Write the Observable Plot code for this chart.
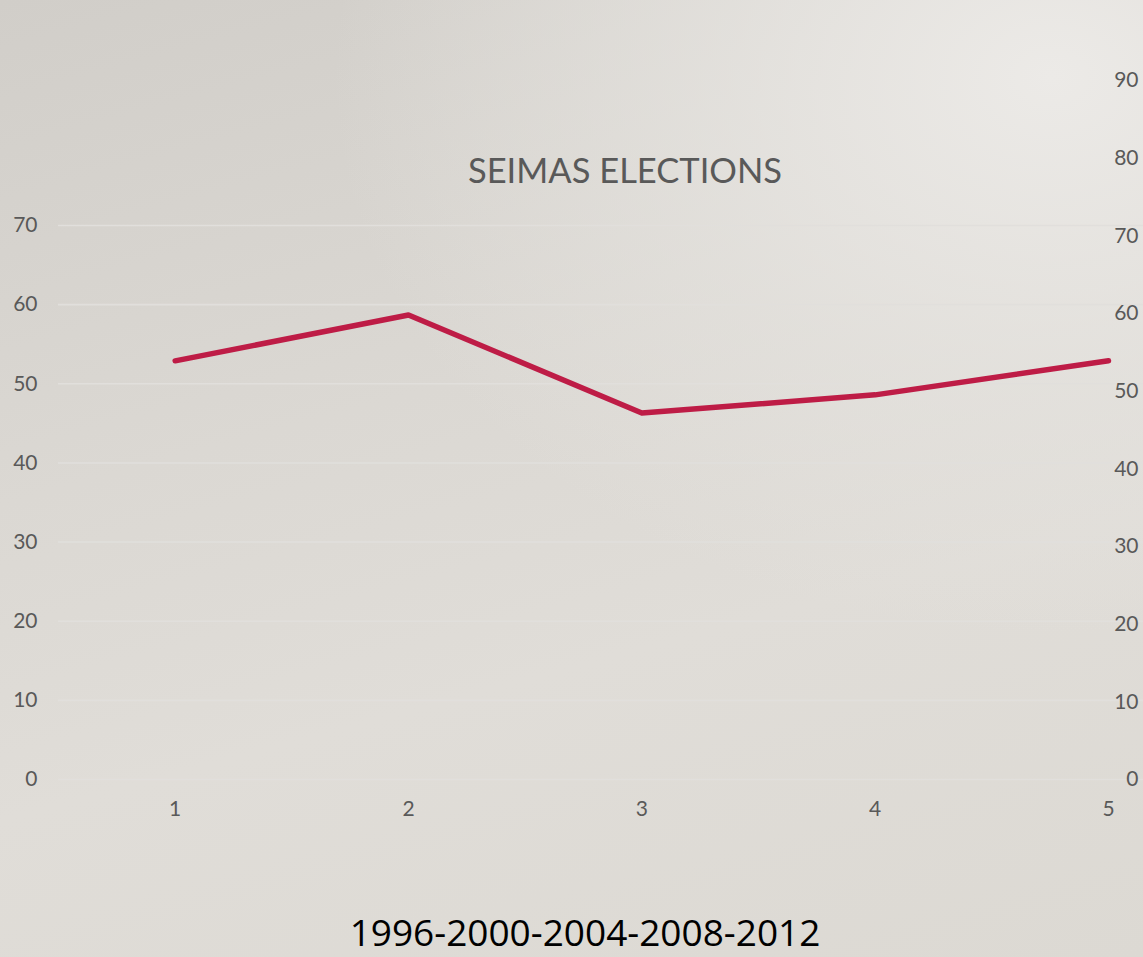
<!DOCTYPE html>
<html>
<head>
<meta charset="utf-8">
<script src="https://cdn.jsdelivr.net/npm/d3@7"></script>
<script src="https://cdn.jsdelivr.net/npm/@observablehq/plot@0.6"></script>
<style>
  html, body { margin: 0; padding: 0; }
  body { width: 1143px; height: 957px; overflow: hidden; }
  #stage {
    position: relative; width: 1143px; height: 957px;
    background:
      radial-gradient(ellipse 900px 700px at 92% 8%, rgba(236,234,231,1) 0%, rgba(230,228,224,0.6) 45%, rgba(222,219,214,0) 80%),
      linear-gradient(165deg, #d1cec9 0%, #dbd8d3 40%, #e0ddd8 65%, #dcd9d3 100%);
  }
  .layer { position: absolute; left: 0; top: 0; }
  .layer svg { background: transparent !important; overflow: visible; }
  #title {
    position: absolute; left: 0; width: 1250px; top: 149px; text-align: center;
    font-family: Lato, "Open Sans", sans-serif; font-size: 34.5px; color: #595959;
  }
  #caption {
    position: absolute; left: 0; width: 1170px; top: 906px; text-align: center;
    font-family: "Open Sans", sans-serif; font-size: 37px; color: #000;
  }
</style>
</head>
<body>
<div id="stage">
  <div id="title">SEIMAS ELECTIONS</div>
  <div class="layer" id="main"></div>
  <div class="layer" id="right"></div>
  <div id="caption">1996-2000-2004-2008-2012</div>
</div>
<script>
const elections = [1, 2, 3, 4, 5];
const turnout = [52.9, 58.7, 46.3, 48.6, 52.9];
const leftTicks = [0, 10, 20, 30, 40, 50, 60, 70];
const rightTicks = [0, 10, 20, 30, 40, 50, 60, 70, 80, 90];

const rows = elections.map((e, i) => ({election: e, value: turnout[i]}));

const font = "Lato, 'Open Sans', sans-serif";

const main = Plot.plot({
  width: 1143,
  height: 830,
  marginTop: 225,
  marginBottom: 51,
  marginLeft: 58,
  marginRight: 0,
  style: {background: "transparent", fontFamily: font, fontSize: "21px", color: "#595959"},
  x: {domain: [0.5, 5.15], label: null},
  y: {domain: [0, 70], label: null},
  marks: [
    Plot.ruleY(leftTicks, {stroke: "#e1dfdc", strokeWidth: 1.6}),
    Plot.axisY({ticks: leftTicks, tickSize: 0, tickPadding: 21, label: null, fill: "#595959"}),
    Plot.axisX({ticks: elections, tickSize: 0, tickPadding: 22, label: null, fill: "#595959", tickFormat: d => String(d)}),
    Plot.line(rows, {x: "election", y: "value", stroke: "#be1c46", strokeWidth: 5.5, strokeLinecap: "round", strokeLinejoin: "round"})
  ]
});
document.getElementById("main").appendChild(main);

const right = Plot.plot({
  width: 1143,
  height: 830,
  marginTop: 80,
  marginBottom: 51,
  marginLeft: 0,
  marginRight: 5,
  style: {background: "transparent", fontFamily: font, fontSize: "21px", color: "#595959"},
  y: {domain: [0, 90], label: null},
  marks: [
    Plot.axisY({anchor: "right", ticks: rightTicks, tickSize: 0, tickPadding: 0, textAnchor: "end", label: null, fill: "#595959"})
  ]
});
document.getElementById("right").appendChild(right);
</script>
</body>
</html>
